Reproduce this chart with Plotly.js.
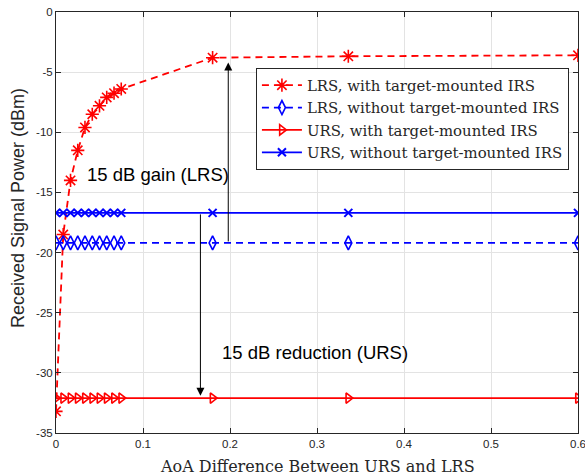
<!DOCTYPE html>
<html>
<head>
<meta charset="utf-8">
<script src="https://cdn.plot.ly/plotly-3.0.1.min.js"></script>
<style>html,body{margin:0;padding:0;background:#fff;}#chart{width:585px;height:476px;}</style>
</head>
<body>
<div id="chart"></div>
<script>
// AoA difference values
const aoa = [0, 0.0083, 0.0167, 0.025, 0.0333, 0.0417, 0.05, 0.0583, 0.0667, 0.075, 0.18, 0.336, 0.6];
// Received signal power (dBm)
const lrsWith    = [-33.2, -18.5, -14.0, -11.5, -9.6, -8.5, -7.8, -7.1, -6.75, -6.4, -3.8, -3.68, -3.6];
const lrsWithout = [-19.2, -19.2, -19.2, -19.2, -19.2, -19.2, -19.2, -19.2, -19.2, -19.2, -19.2, -19.2, -19.2];
const ursWith    = [-32.1, -32.1, -32.1, -32.1, -32.1, -32.1, -32.1, -32.1, -32.1, -32.1, -32.1, -32.1, -32.1];
const ursWithout = [-16.7, -16.7, -16.7, -16.7, -16.7, -16.7, -16.7, -16.7, -16.7, -16.7, -16.7, -16.7, -16.7];
const seriesNames = ['LRS, with target-mounted IRS', 'LRS, without target-mounted IRS',
                     'URS, with target-mounted IRS', 'URS, without target-mounted IRS'];
const xTicks = [0, 0.1, 0.2, 0.3, 0.4, 0.5, 0.6];
const xTickText = ['0', '0.1', '0.2', '0.3', '0.4', '0.5', '0.6'];
const yTicks = [0, -5, -10, -15, -20, -25, -30, -35];
const yTickText = ['0', '-5', '-10', '-15', '-20', '-25', '-30', '-35'];
// annotation arrows: [x, tail y, head y]
const gainArrow = [0.198, -19.2, -4.2];
const reductionArrow = [0.166, -16.7, -31.9];
const gainLabel = '15 dB gain (LRS)';
const reductionLabel = '15 dB reduction (URS)';
const xTitle = 'AoA Difference Between URS and LRS';
const yTitle = 'Received Signal Power (dBm)';

const red = '#ff0000', blue = '#0000ff';
const traces = [
  {x: aoa, y: lrsWith, name: seriesNames[0], mode: 'lines+markers',
   line: {color: red, width: 1.8, dash: '7px,5px'},
   marker: {symbol: 'asterisk-open', size: 11, line: {color: red, width: 1.6}, color: red}},
  {x: aoa, y: lrsWithout, name: seriesNames[1], mode: 'lines+markers',
   line: {color: blue, width: 1.8, dash: '7px,5px'},
   marker: {symbol: 'diamond-tall-open', size: 10, line: {color: blue, width: 1.6}, color: blue}},
  {x: aoa, y: ursWith, name: seriesNames[2], mode: 'lines+markers',
   line: {color: red, width: 1.8},
   marker: {symbol: 'triangle-right-open', size: 9, line: {color: red, width: 1.6}, color: red}},
  {x: aoa, y: ursWithout, name: seriesNames[3], mode: 'lines+markers',
   line: {color: blue, width: 1.8},
   marker: {symbol: 'x-thin-open', size: 8, line: {color: blue, width: 2}, color: blue}}
];

const axisCommon = {
  showline: true, mirror: 'ticks', linecolor: '#262626', linewidth: 1,
  ticks: 'inside', ticklen: 5, tickcolor: '#262626',
  showgrid: true, gridcolor: '#e3e3e3', gridwidth: 1, zeroline: false,
  ticklabeloverflow: 'allow',
  tickfont: {family: 'Liberation Sans, Arial, sans-serif', size: 11.5, color: '#262626'}
};

const pw = 585 - 56 - 7, ph = 476 - 12 - 43;
const layout = {
  width: 585, height: 476,
  margin: {l: 56, r: 7, t: 12, b: 43},
  paper_bgcolor: '#fff', plot_bgcolor: '#fff',
  showlegend: true,
  legend: {x: 0.383, y: 0.867, xanchor: 'left', yanchor: 'top',
           bgcolor: '#fff', bordercolor: '#262626', borderwidth: 1,
           font: {family: 'DejaVu Serif, serif', size: 14.9, color: '#262626'},
           tracegroupgap: 0, itemwidth: 40},
  xaxis: Object.assign({}, axisCommon, {range: [-0.000001, 0.600001], tickvals: xTicks, ticktext: xTickText}),
  yaxis: Object.assign({}, axisCommon, {range: [-35.00001, 0.00001], tickvals: yTicks, ticktext: yTickText}),
  annotations: [
    {x: gainArrow[0], y: gainArrow[2], ax: gainArrow[0], ay: gainArrow[1],
     xref: 'x', yref: 'y', axref: 'x', ayref: 'y', text: '', showarrow: true,
     arrowhead: 2, arrowsize: 1.6, arrowwidth: 1, arrowcolor: '#000'},
    {x: reductionArrow[0], y: reductionArrow[2], ax: reductionArrow[0], ay: reductionArrow[1],
     xref: 'x', yref: 'y', axref: 'x', ayref: 'y', text: '', showarrow: true,
     arrowhead: 2, arrowsize: 1.6, arrowwidth: 1, arrowcolor: '#000'},
    {x: 0.1175, y: -13.5, xref: 'x', yref: 'y', text: gainLabel, showarrow: false,
     xanchor: 'center', yanchor: 'middle',
     font: {family: 'Liberation Sans, Arial, sans-serif', size: 18.5, color: '#000'}},
    {x: 0.2975, y: -28.3, xref: 'x', yref: 'y', text: reductionLabel, showarrow: false,
     xanchor: 'center', yanchor: 'middle',
     font: {family: 'Liberation Sans, Arial, sans-serif', size: 18.5, color: '#000'}},
    {x: 0.5, y: 1 - (466 - 12) / ph, xref: 'paper', yref: 'paper', text: xTitle,
     showarrow: false, xanchor: 'center', yanchor: 'middle',
     font: {family: 'DejaVu Serif, serif', size: 16, color: '#262626'}},
    {x: (18 - 56) / pw, y: 1 - (208 - 12) / ph, xref: 'paper', yref: 'paper', text: yTitle,
     showarrow: false, textangle: -90, xanchor: 'center', yanchor: 'middle',
     font: {family: 'Liberation Sans, Arial, sans-serif', size: 18, color: '#262626'}}
  ]
};

Plotly.newPlot('chart', traces, layout, {displayModeBar: false, staticPlot: true});
</script>
</body>
</html>
